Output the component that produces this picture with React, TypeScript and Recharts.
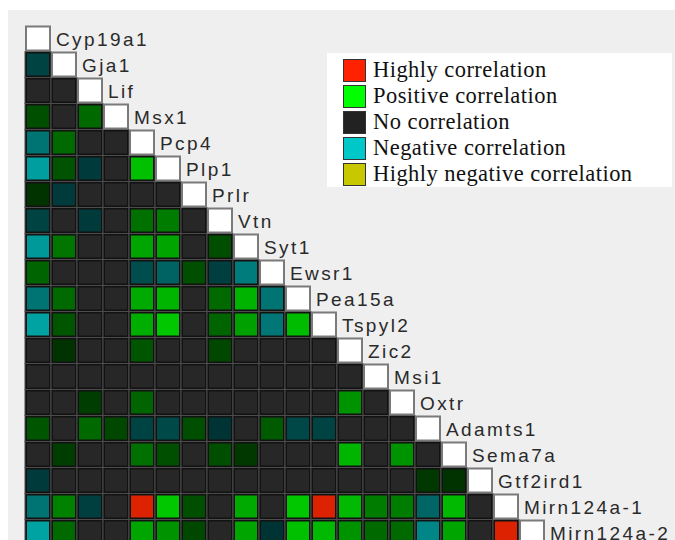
import React from 'react';
import { ScatterChart, Scatter, XAxis, YAxis, Legend } from 'recharts';

// Genes in matrix order (rows top to bottom, columns left to right)
const genes = [
  'Cyp19a1', 'Gja1', 'Lif', 'Msx1', 'Pcp4', 'Plp1', 'Prlr', 'Vtn', 'Syt1', 'Ewsr1',
  'Pea15a', 'Tspyl2', 'Zic2', 'Msi1', 'Oxtr', 'Adamts1', 'Sema7a', 'Gtf2ird1',
  'Mirn124a-1', 'Mirn124a-2',
];

// Lower triangle of the correlation matrix, one row per gene (diagonal excluded)
const lowerTriangle: number[][] = [
  [],
  [-0.3],
  [0, 0],
  [0.3, 0, 0.42],
  [-0.55, 0.42, 0, 0],
  [-0.78, 0.32, -0.25, 0, 0.8],
  [0.18, -0.25, 0, 0, 0, 0],
  [-0.3, 0, -0.25, 0, 0.45, 0.5, 0],
  [-0.75, 0.47, 0, 0, 0.68, 0.68, 0, 0.3],
  [0.4, 0, 0, 0, -0.35, -0.47, 0.3, -0.28, -0.6],
  [-0.55, 0.42, 0, 0, 0.7, 0.75, 0, 0.42, 0.74, -0.55],
  [-0.8, 0.33, 0, 0, 0.72, 0.83, 0, 0.4, 0.66, -0.57, 0.78],
  [0, 0.18, 0, 0, 0.33, 0, 0, 0.27, 0, 0, 0, 0],
  [0, 0, 0, 0, 0, 0, 0, 0, 0, 0, 0, 0, 0],
  [0, 0, 0.22, 0, 0.4, 0, 0, 0, 0, 0, 0, 0, 0.6, 0],
  [0.33, 0, 0.42, 0.27, -0.3, -0.33, 0.3, -0.22, 0, 0.35, -0.32, -0.3, 0, 0, 0],
  [0, 0.22, 0, 0, 0.45, 0.3, 0, 0.3, 0.2, 0, 0, 0, 0.75, 0, 0.6, 0],
  [-0.25, 0, 0, 0, 0, 0, 0, 0, 0, 0, 0, 0, 0, 0, 0, 0.2, 0.18],
  [-0.55, 0.52, -0.28, 0, 0.95, 0.83, 0.3, 0, 0.7, 0, 0.83, 0.95, 0.77, 0.5, 0.5, -0.48, 0.77, 0],
  [-0.8, 0.42, 0, 0, 0.68, 0.6, 0.27, 0, 0.68, -0.22, 0.8, 0.77, 0.6, 0.42, 0.42, -0.65, 0.68, 0, 0.95],
];

const legendLabels = [
  'Highly correlation',
  'Positive correlation',
  'No correlation',
  'Negative correlation',
  'Highly negative correlation',
];
const legendColors = ['#ff2200', '#00ff00', '#222222', '#00c8c8', '#c8c800'];

const CELL = 26;

function cellColor(v: number) {
  if (v >= 0.9) return '#dc2200';
  if (v <= -0.9) return '#c8c800';
  if (v > 0.05) {
    const g = Math.round(56 + (v - 0.2) * 227);
    return `rgb(0,${g},0)`;
  }
  if (v < -0.05) {
    const t = Math.round(48 + (-v - 0.2) * 190);
    return `rgb(0,${t},${t})`;
  }
  return '#272727';
}

const cells = lowerTriangle.flatMap((row, r) => row.map((v, c) => ({ x: c, y: r, v })));
const diagonal = genes.map((name, i) => ({ x: i, y: i, name }));

const MatrixCell = (props: any) => {
  const { cx, cy, payload } = props;
  const x0 = cx - CELL / 2;
  const y0 = cy - CELL / 2;
  return (
    <g>
      <rect x={x0} y={y0} width={CELL} height={CELL} fill="#121212" stroke="#4c4c4c" strokeWidth={1} />
      <rect x={x0 + 2} y={y0 + 2} width={CELL - 4} height={CELL - 4} fill={cellColor(payload.v)} />
    </g>
  );
};

const DiagonalCell = (props: any) => {
  const { cx, cy, payload } = props;
  const x0 = cx - CELL / 2;
  const y0 = cy - CELL / 2;
  return (
    <g>
      <rect x={x0 + 1} y={y0 + 1} width={CELL - 2} height={CELL - 2} fill="#ffffff" stroke="#7a7a7a" strokeWidth={2} />
      <text
        x={x0 + CELL + 5}
        y={cy + 7}
        fontFamily="'Liberation Sans', Arial, sans-serif"
        fontSize={19}
        letterSpacing={2.4}
        fill="#2a2a2a"
      >
        {payload.name}
      </text>
    </g>
  );
};

const LegendBox = () => (
  <div style={{ background: '#fff', padding: '4px 0 0 16px', height: 130 }}>
    {legendLabels.map((label, i) => (
      <div key={label} style={{ display: 'flex', alignItems: 'center', height: 26 }}>
        <div
          style={{
            width: 23,
            height: 23,
            background: legendColors[i],
            border: '1px solid #333',
            boxSizing: 'border-box',
            marginRight: 7,
          }}
        />
        <span
          style={{
            fontFamily: "'Liberation Serif', 'Times New Roman', serif",
            fontSize: 22.5,
            letterSpacing: 0.45,
            color: '#111',
            lineHeight: '26px',
            whiteSpace: 'nowrap',
          }}
        >
          {label}
        </span>
      </div>
    ))}
  </div>
);

export default function App() {
  return (
    <div
      style={{
        position: 'absolute',
        left: 8,
        top: 10,
        width: 667,
        height: 530,
        overflow: 'hidden',
        background: '#efefef',
      }}
    >
      <ScatterChart
        width={667}
        height={545}
        margin={{ top: 15.5, right: 130, bottom: 9.5, left: 17 }}
      >
        <XAxis type="number" dataKey="x" domain={[-0.5, 19.5]} hide />
        <YAxis type="number" dataKey="y" domain={[-0.5, 19.5]} reversed hide />
        <Legend
          layout="horizontal"
          verticalAlign="middle"
          content={() => <LegendBox />}
          wrapperStyle={{ left: 319, top: 43, width: 345, height: 134 }}
        />
        <Scatter data={cells} shape={MatrixCell} isAnimationActive={false} />
        <Scatter data={diagonal} shape={DiagonalCell} isAnimationActive={false} />
      </ScatterChart>
    </div>
  );
}
